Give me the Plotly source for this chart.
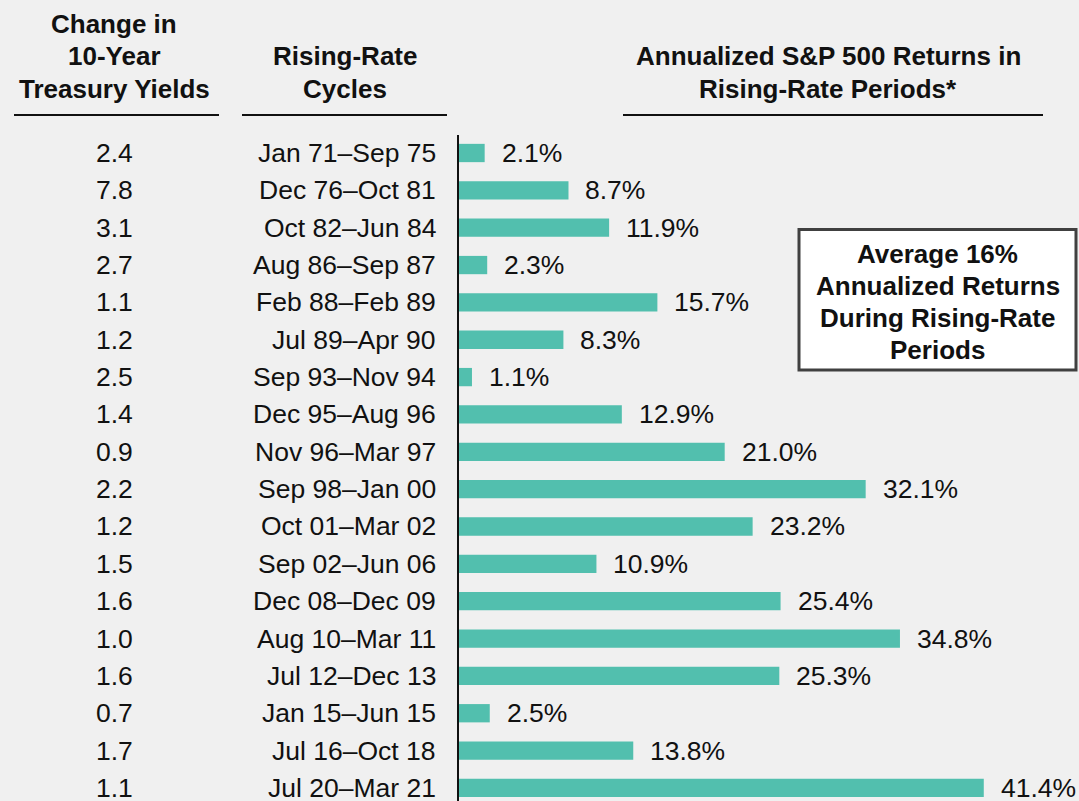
import plotly.graph_objects as go

cycles = ["Jan 71–Sep 75", "Dec 76–Oct 81", "Oct 82–Jun 84", "Aug 86–Sep 87",
          "Feb 88–Feb 89", "Jul 89–Apr 90", "Sep 93–Nov 94", "Dec 95–Aug 96",
          "Nov 96–Mar 97", "Sep 98–Jan 00", "Oct 01–Mar 02", "Sep 02–Jun 06",
          "Dec 08–Dec 09", "Aug 10–Mar 11", "Jul 12–Dec 13", "Jan 15–Jun 15",
          "Jul 16–Oct 18", "Jul 20–Mar 21"]
yield_change = [2.4, 7.8, 3.1, 2.7, 1.1, 1.2, 2.5, 1.4, 0.9, 2.2, 1.2, 1.5,
                1.6, 1.0, 1.6, 0.7, 1.7, 1.1]
returns = [2.1, 8.7, 11.9, 2.3, 15.7, 8.3, 1.1, 12.9, 21.0, 32.1, 23.2, 10.9,
           25.4, 34.8, 25.3, 2.5, 13.8, 41.4]

header_yield = ["Change in", "10-Year", "Treasury Yields"]
header_cycle = ["Rising-Rate", "Cycles"]
header_returns = ["Annualized S&P 500 Returns in", "Rising-Rate Periods*"]
callout = ["Average 16%", "Annualized Returns", "During Rising-Rate", "Periods"]

W, H = 1079, 801
L, T = 458, 135
PW, PH = W - L, H - T
FONT = "Liberation Sans, Arial, sans-serif"
BAR = "#52bfae"
BG = "#f0f0f0"
TXT = "#111111"

def px(x):
    return (x - L) / PW

def py(y):
    return (H - y) / PH

rows = list(range(len(cycles)))

fig = go.Figure(go.Bar(
    x=returns, y=rows, orientation="h", marker=dict(color=BAR, line=dict(width=0)),
    width=0.49, hoverinfo="skip"))

ann = []
for i, (c, yc, r) in enumerate(zip(cycles, yield_change, returns)):
    ann.append(dict(x=px(114), xref="paper", y=i, yref="y", text=f"{yc:.1f}",
                    showarrow=False, xanchor="center", yanchor="middle",
                    font=dict(size=26.5, color=TXT)))
    ann.append(dict(x=px(438), xref="paper", y=i, yref="y", text=c,
                    showarrow=False, xanchor="right", yanchor="middle",
                    font=dict(size=26.5, color=TXT)))
    ann.append(dict(x=r, xref="x", y=i, yref="y", text=f"{r:.1f}%",
                    showarrow=False, xanchor="left", yanchor="middle", xshift=15,
                    font=dict(size=26.5, color=TXT)))

def header(lines, xc, ys, size=26):
    for t, yy in zip(lines, ys):
        ann.append(dict(x=px(xc), xref="paper", y=py(yy), yref="paper",
                        text=f"<b>{t}</b>", showarrow=False,
                        xanchor="center", yanchor="middle",
                        font=dict(size=size, color=TXT)))

header(header_yield, 114, [24, 56.5, 89])
header(header_cycle, 345, [56, 89])
header(header_returns, 828, [56, 89])
header(callout, 937.5, [254, 286, 318, 350], size=26)

shapes = []
for x0, x1 in [(14, 219), (242, 447), (623, 1043)]:
    shapes.append(dict(type="line", xref="paper", yref="paper",
                       x0=px(x0), x1=px(x1), y0=py(115), y1=py(115),
                       line=dict(color=TXT, width=2)))
shapes.append(dict(type="line", xref="paper", yref="paper", x0=0, x1=0, y0=0, y1=1,
                   line=dict(color=TXT, width=2)))
shapes.append(dict(type="rect", xref="paper", yref="paper",
                   x0=px(799), x1=px(1076), y0=py(229.5), y1=py(370),
                   fillcolor="white", line=dict(color="#404040", width=3)))

fig.update_layout(
    width=W, height=H, margin=dict(l=L, r=0, t=T, b=0),
    paper_bgcolor=BG, plot_bgcolor=BG, showlegend=False,
    font=dict(family=FONT),
    xaxis=dict(range=[0, PW / 12.7], visible=False, fixedrange=True),
    yaxis=dict(range=[17.35, -0.482], showgrid=False, zeroline=False,
               showticklabels=False, ticks="", showline=False, fixedrange=True),
    annotations=ann, shapes=shapes,
)

fig.write_html("out.html", config={"displayModeBar": False},
               post_script="document.body.style.margin='0';")
